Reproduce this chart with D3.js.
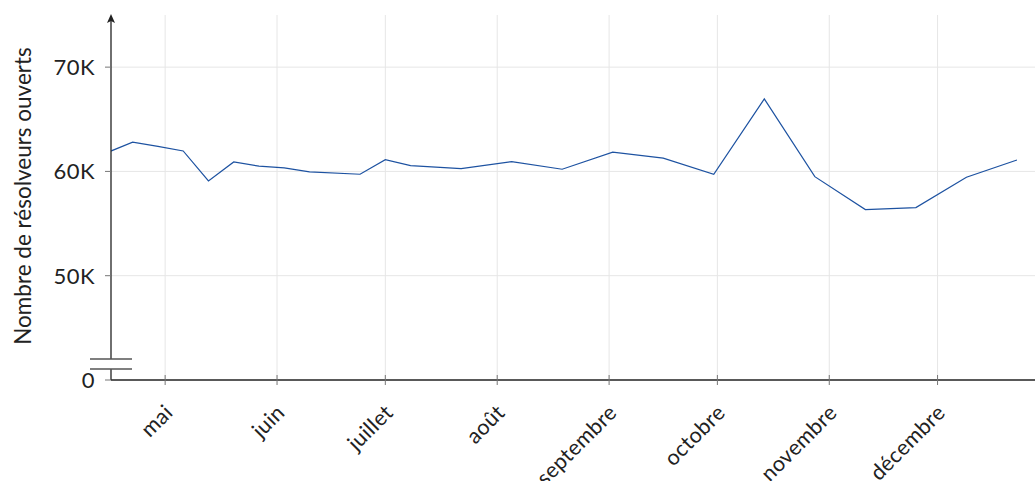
<!DOCTYPE html>
<html>
<head>
<meta charset="utf-8">
<script src="https://cdn.jsdelivr.net/npm/d3@7"></script>
<style>
  body { margin: 0; background: #fff; }
  svg { display: block; font-family: Lato, "Open Sans", sans-serif; font-weight: 400; }
</style>
</head>
<body>
<div id="chart"></div>
<script>
// weekly (then bi-weekly) counts of open resolvers, 2024
const dates = [
    "2024-04-15", "2024-04-22", "2024-04-29", "2024-05-06", "2024-05-13", "2024-05-20",
    "2024-05-27", "2024-06-03", "2024-06-10", "2024-06-24", "2024-07-01", "2024-07-08",
    "2024-07-22", "2024-08-05", "2024-08-19", "2024-09-02", "2024-09-16", "2024-09-30",
    "2024-10-14", "2024-10-28", "2024-11-11", "2024-11-25", "2024-12-09", "2024-12-23"
];
const resolvers = [
    61820, 62800, 62400, 61960, 59090, 60910,
    60500, 60340, 59950, 59730, 61130, 60560,
    60270, 60940, 60210, 61840, 61270, 59730,
    66950, 59500, 56340, 56530, 59440, 61100
];
const monthTicks = ["2024-05-01", "2024-06-01", "2024-07-01", "2024-08-01",
                    "2024-09-01", "2024-10-01", "2024-11-01", "2024-12-01"];
const monthLabels = ["mai", "juin", "juillet", "août", "septembre", "octobre", "novembre", "décembre"];
const yTicks = [0, 50000, 60000, 70000];
const yLabels = ["0", "50K", "60K", "70K"];

const parse = d3.timeParse("%Y-%m-%d");
const data = dates.map((d, i) => ({ date: parse(d), value: resolvers[i] }));

const width = 1035, height = 481;
const svg = d3.select("#chart").append("svg")
    .attr("width", width)
    .attr("height", height);

const x = d3.scaleTime()
    .domain([parse("2024-04-16"), parse("2024-12-28")])
    .range([111, 1035]);

// broken axis: 0 sits just below the 50K..75K band
const y = d3.scaleLinear()
    .domain([0, 50000, 75000])
    .range([380, 275.7, 15]);

const grid = "#e6e6e6";

// gridlines
svg.append("g").selectAll("line")
    .data(yTicks.slice(1))
    .join("line")
    .attr("x1", 111).attr("x2", width)
    .attr("y1", d => y(d)).attr("y2", d => y(d))
    .attr("stroke", grid);

svg.append("g").selectAll("line")
    .data(monthTicks)
    .join("line")
    .attr("x1", d => x(parse(d))).attr("x2", d => x(parse(d)))
    .attr("y1", 15).attr("y2", 380)
    .attr("stroke", grid);

// line
svg.append("clipPath").attr("id", "clip")
    .append("rect").attr("x", 111).attr("y", 0).attr("width", width - 111).attr("height", 380);

const line = d3.line()
    .x(d => x(d.date))
    .y(d => y(d.value));

svg.append("path")
    .datum(data)
    .attr("clip-path", "url(#clip)")
    .attr("fill", "none")
    .attr("stroke", "#1d52a1")
    .attr("stroke-width", 1.2)
    .attr("d", line);

// x axis
svg.append("line")
    .attr("x1", 111).attr("x2", width)
    .attr("y1", 380).attr("y2", 380)
    .attr("stroke", "#222").attr("stroke-width", 1.4);

svg.append("g").selectAll("line")
    .data(monthTicks)
    .join("line")
    .attr("x1", d => x(parse(d))).attr("x2", d => x(parse(d)))
    .attr("y1", 375).attr("y2", 385)
    .attr("stroke", "#777");

svg.append("g").selectAll("text")
    .data(monthTicks)
    .join("text")
    .attr("transform", d => `translate(${x(parse(d)) + 9},${414}) rotate(-45)`)
    .attr("text-anchor", "end")
    .attr("fill", "#222")
    .style("font-size", "21.5px")
    .style("letter-spacing", "0.3px")
    .text((d, i) => monthLabels[i]);

// y axis with break
svg.append("line")
    .attr("x1", 111).attr("x2", 111)
    .attr("y1", 380).attr("y2", 369)
    .attr("stroke", "#333").attr("stroke-width", 1.4);
svg.append("line")
    .attr("x1", 111).attr("x2", 111)
    .attr("y1", 359).attr("y2", 20)
    .attr("stroke", "#333").attr("stroke-width", 1.4);
svg.append("path")
    .attr("d", "M111,14 L107,23 L111,21 L115,23 Z")
    .attr("fill", "#222");
[359, 369].forEach(yy => {
    svg.append("line")
        .attr("x1", 90).attr("x2", 132)
        .attr("y1", yy).attr("y2", yy)
        .attr("stroke", "#555").attr("stroke-width", 1.3);
});

svg.append("g").selectAll("line")
    .data(yTicks)
    .join("line")
    .attr("x1", 105).attr("x2", 111)
    .attr("y1", d => y(d)).attr("y2", d => y(d))
    .attr("stroke", "#777");

svg.append("g").selectAll("text")
    .data(yTicks)
    .join("text")
    .attr("x", 95)
    .attr("y", d => y(d))
    .attr("dy", "0.36em")
    .attr("text-anchor", "end")
    .attr("fill", "#222")
    .style("font-size", "22px")
    .style("letter-spacing", "0.5px")
    .text((d, i) => yLabels[i]);

svg.append("text")
    .attr("transform", "translate(31,196) rotate(-90)")
    .attr("text-anchor", "middle")
    .attr("fill", "#222")
    .style("font-size", "22.5px")
    .text("Nombre de résolveurs ouverts");
</script>
</body>
</html>
